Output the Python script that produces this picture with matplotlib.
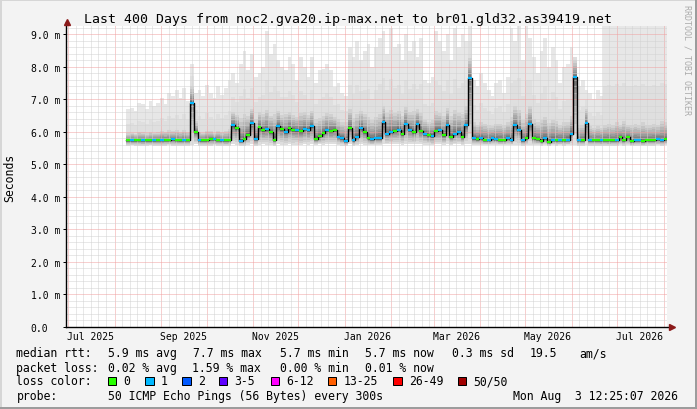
import numpy as np
import matplotlib
matplotlib.use('Agg')
import matplotlib.pyplot as plt
import matplotlib.dates as mdates
from datetime import datetime
from matplotlib.patches import Rectangle

# ---------------- data ----------------
title = "Last 400 Days from noc2.gva20.ip-max.net to br01.gld32.as39419.net"
window_start = datetime(2025, 6, 29, 12, 25, 7)
window_end = datetime(2026, 8, 3, 12, 25, 7)
data_start = datetime(2025, 8, 8, 12, 0)
step_days = 2.5

# median rtt (ms) per consolidated step
median = [
    5.74, 5.74, 5.74, 5.75, 5.74, 5.74, 5.74, 5.74, 5.75, 5.76, 5.76, 5.76, 5.77, 5.75, 5.75, 5.75, 5.75,
    6.90, 6.00,
    5.74, 5.74, 5.75, 5.78, 5.77, 5.75, 5.74, 5.74, 5.74,
    6.20, 6.12, 5.73, 5.79, 5.92, 6.28, 5.79, 6.15, 6.05, 6.08, 6.00, 5.76, 6.17, 6.08, 6.00, 6.12, 6.07, 6.05, 6.02,
    6.10, 6.05, 6.17, 5.79, 5.87, 5.97, 6.05, 6.03, 6.07, 5.85, 5.80, 5.72, 6.13, 5.74, 5.85, 6.13, 6.00, 5.80, 5.77, 5.80, 5.80,
    6.30, 5.95, 6.00, 6.03, 6.07, 5.95, 6.25, 6.07, 6.00, 6.23, 6.03, 5.95, 5.90, 5.87, 6.03, 6.05, 5.90, 6.20, 5.85, 5.95, 5.99, 5.85, 6.20,
    7.66, 5.80, 5.78, 5.80, 5.76,
    5.76, 5.80, 5.78, 5.76, 5.76, 5.80, 5.76, 6.20, 6.07, 5.74, 5.82, 6.23, 5.80, 5.78, 5.72, 5.80, 5.69, 5.76, 5.74, 5.76, 5.74, 5.76, 5.95,
    7.69, 5.74, 5.74, 6.28, 5.74, 5.74, 5.74, 5.74, 5.74, 5.74, 5.74, 5.74, 5.83, 5.74, 5.83, 5.72, 5.74, 5.74, 5.72, 5.74, 5.74, 5.74, 5.77, 5.74, 5.78,
]
# loss class per step (0 = no loss, 1 = one lost ping)
loss = [
    0, 1, 0, 0, 1, 0, 0, 1, 0, 1, 0, 0, 1, 0, 0, 1, 0,
    1, 0,
    1, 0, 0, 0, 1, 0, 1, 0, 0,
    1, 0, 1, 0, 0, 1, 1, 0, 0, 1, 0, 0, 1, 0, 1, 0, 0, 1, 0,
    1, 1, 1, 0, 0, 0, 1, 0, 0, 1, 1, 1, 0, 1, 1, 1, 0, 0, 1, 1, 1,
    1, 1, 1, 0, 1, 0, 1, 1, 0, 1, 0, 1, 0, 1, 0, 1, 0, 1, 0, 1, 1, 0, 1,
    1, 1, 0, 1, 0,
    1, 1, 1, 0, 0, 1, 1, 1, 1, 1, 0, 1, 0, 0, 0, 1, 0, 1, 0, 1, 0, 1, 1,
    1, 1, 0, 1, 1, 0, 0, 1, 0, 0, 0, 1, 0, 0, 0, 0, 1, 1, 0, 0, 0, 0, 1, 1, 0,
]
# highest ping per step (ms)
ping_max = [
    6.70, 6.75, 6.65, 6.90, 6.85, 6.70, 6.95, 6.80, 6.90, 7.05, 6.85, 7.20, 7.10, 7.30, 7.05, 7.35, 6.95,
    8.10, 7.20,
    7.30, 7.10, 7.45, 7.20, 7.05, 7.40, 7.15, 7.35, 7.60,
    7.80, 7.50, 8.10, 8.50, 7.90, 8.40, 7.70, 7.80, 8.00, 9.10, 8.40, 8.70, 8.20, 8.00, 7.90, 8.30, 8.10, 7.60, 8.30,
    7.99, 7.69, 8.30, 7.50, 7.90, 7.94, 8.10, 7.90, 7.38, 7.50, 7.20, 7.10, 8.60, 8.30, 8.80, 8.20, 8.50, 8.70, 8.00, 8.60, 8.90,
    9.10, 8.40, 9.20, 8.60, 8.70, 8.20, 9.00, 8.50, 8.80, 8.30, 8.90, 7.60, 7.50, 7.70, 9.10, 8.80, 8.50, 9.00, 8.20, 9.20, 8.60, 9.00, 8.80,
    9.50, 7.60, 7.40, 7.80, 7.50,
    7.30, 7.10, 7.50, 7.60, 7.20, 7.70, 9.20, 8.80, 9.30, 8.20, 9.30, 8.90, 8.30, 7.80, 8.50, 8.90, 8.00, 8.60, 8.20, 7.50, 8.00, 8.10, 8.60,
    8.20, 7.40, 7.60, 7.30, 7.20, 7.00, 7.30, 7.10, 9.50, 9.50, 9.50, 9.50, 9.50, 9.50, 9.50, 9.50, 9.50, 9.50, 9.50, 9.50, 9.50, 9.50, 9.50, 9.50, 9.50,
]
# upper edge of the dense smoke (ms)
ping_q80 = [
    6.00, 6.02, 5.98, 6.05, 6.03, 6.00, 6.05, 6.02, 6.04, 6.08, 6.05, 6.10, 6.08, 6.12, 6.06, 6.12, 6.05,
    7.50, 6.40,
    6.05, 6.02, 6.10, 6.08, 6.02, 6.10, 6.05, 6.08, 6.15,
    6.70, 6.60, 6.55, 6.70, 6.60, 6.80, 6.50, 6.70, 6.65, 6.80, 6.60, 6.70, 6.75, 6.60, 6.65, 6.70, 6.60, 6.55, 6.70,
    6.70, 6.60, 6.75, 6.50, 6.55, 6.60, 6.70, 6.65, 6.55, 6.50, 6.40, 6.40, 6.80, 6.55, 6.70, 6.75, 6.65, 6.60, 6.50, 6.60, 6.70,
    6.90, 6.70, 6.80, 6.70, 6.75, 6.60, 6.85, 6.70, 6.75, 6.80, 6.70, 6.45, 6.40, 6.45, 6.75, 6.70, 6.60, 6.85, 6.60, 6.80, 6.70, 6.70, 6.90,
    8.40, 6.40, 6.30, 6.40, 6.35,
    6.30, 6.25, 6.35, 6.35, 6.30, 6.40, 6.60, 6.90, 6.80, 6.50, 6.70, 6.90, 6.50, 6.40, 6.50, 6.60, 6.40, 6.50, 6.45, 6.30, 6.40, 6.40, 6.60,
    8.30, 6.30, 6.30, 6.80, 6.25, 6.20, 6.25, 6.20, 6.30, 6.35, 6.30, 6.40, 6.30, 6.45, 6.30, 6.30, 6.35, 6.30, 6.40, 6.30, 6.30, 6.35, 6.30, 6.45, 6.40,
]
# lowest ping per step (ms)
ping_min = [
    5.58, 5.59, 5.58, 5.58, 5.57, 5.58, 5.59, 5.58, 5.58, 5.57, 5.58, 5.59, 5.58, 5.58, 5.57, 5.58, 5.58,
    5.60, 5.62,
    5.58, 5.58, 5.57, 5.58, 5.59, 5.58, 5.58, 5.57, 5.58,
    5.62, 5.60, 5.58, 5.58, 5.60, 5.62, 5.58, 5.60, 5.62, 5.60, 5.61, 5.58, 5.62, 5.60, 5.61, 5.62, 5.60, 5.61, 5.60,
    5.62, 5.61, 5.63, 5.60, 5.62, 5.61, 5.63, 5.62, 5.62, 5.60, 5.58, 5.57, 5.62, 5.58, 5.60, 5.62, 5.61, 5.60, 5.59, 5.60, 5.60,
    5.64, 5.62, 5.62, 5.63, 5.62, 5.61, 5.64, 5.62, 5.62, 5.63, 5.62, 5.60, 5.60, 5.59, 5.62, 5.62, 5.60, 5.63, 5.60, 5.62, 5.62, 5.60, 5.63,
    5.62, 5.60, 5.60, 5.61, 5.59,
    5.59, 5.60, 5.60, 5.59, 5.59, 5.60, 5.59, 5.61, 5.60, 5.58, 5.60, 5.61, 5.60, 5.59, 5.57, 5.60, 5.56, 5.59, 5.58, 5.59, 5.58, 5.59, 5.60,
    5.60, 5.58, 5.58, 5.60, 5.58, 5.58, 5.58, 5.57, 5.58, 5.57, 5.58, 5.58, 5.60, 5.58, 5.60, 5.56, 5.58, 5.58, 5.56, 5.58, 5.58, 5.58, 5.59, 5.58, 5.59,
]

y_ticks = [0, 1, 2, 3, 4, 5, 6, 7, 8, 9]
y_tick_labels = ["0.0", "1.0 m", "2.0 m", "3.0 m", "4.0 m", "5.0 m", "6.0 m", "7.0 m", "8.0 m", "9.0 m"]
x_label_months = [(2025, 7), (2025, 9), (2025, 11), (2026, 1), (2026, 3), (2026, 5), (2026, 7)]

loss_labels = ["0", "1", "2", "3-5", "6-12", "13-25", "26-49", "50/50"]
loss_colors = ["#26ff00", "#00b8ff", "#0059ff", "#5e00ff", "#ff00ff", "#ff5e00", "#ff0000", "#a10000"]

legend_rtt = [("median rtt:", 16.4), ("5.9 ms avg", 108), ("7.7 ms max", 193.3), ("5.7 ms min", 280),
              ("5.7 ms now", 365.3), ("0.3 ms sd", 452), ("19.5", 530), ("am/s", 579)]
legend_loss = [("packet loss:", 16.4), ("0.02 % avg", 108), ("1.59 % max", 192.4), ("0.00 % min", 280),
               ("0.01 % now", 365.3)]
probe_text = "50 ICMP Echo Pings (56 Bytes) every 300s"
stamp_text = "Mon Aug  3 12:25:07 2026"

# ---------------- figure ----------------
W, H = 697, 410
MONO = "DejaVu Sans Mono"
fig = plt.figure(figsize=(W / 100, H / 100), dpi=100, facecolor="#f3f3f3")


def fx(px):
    return px / W


def fy(py):
    return 1 - py / H


AX_L, AX_R, AX_T, AX_B = 66, 667.4, 27, 328
ax = fig.add_axes([fx(AX_L), fy(AX_B), (AX_R - AX_L) / W, (AX_B - AX_T) / H])
ax.set_facecolor("white")
for s in ax.spines.values():
    s.set_visible(False)

n = min(len(median), len(loss), len(ping_max), len(ping_q80), len(ping_min))
med = np.array(median[:n])
top = np.array(ping_max[:n])
q80 = np.array(ping_q80[:n])
low = np.array(ping_min[:n])
lc = np.array(loss[:n])

x0 = mdates.date2num(data_start)
xe = x0 + step_days * np.arange(n + 1)


def st(a):
    return np.append(a, a[-1])


# smoke: light part up to max
mid = q80 + (top - q80) * 0.35
ax.fill_between(xe, st(q80), st(mid), step="post", color="#dfdfdf", lw=0, zorder=1, antialiased=False)
ax.fill_between(xe, st(mid), st(top), step="post", color="#e7e7e7", lw=0, zorder=1, antialiased=False)
# dense smoke gradient around median
K = 12
fr = (np.arange(K + 1) / K) ** 2.0
for k in range(K):
    g = 0.30 + 0.57 * (k / (K - 1))
    col = (g, g, g)
    a1 = med + (q80 - med) * fr[k]
    a2 = med + (q80 - med) * fr[k + 1]
    ax.fill_between(xe, st(a1), st(a2), step="post", color=col, lw=0, zorder=1, antialiased=False)
    b1 = med - (med - low) * fr[k]
    b2 = med - (med - low) * fr[k + 1]
    ax.fill_between(xe, st(b2), st(b1), step="post", color=col, lw=0, zorder=1, antialiased=False)

# grid
xmin = mdates.date2num(window_start)
xmax = mdates.date2num(window_end)
ax.set_xlim(xmin, xmax)
ax.set_ylim(0, 9.26)

dot = (0, (1, 1))
MAJ = "#f0a0a0"
MIN = "#d2d2d2"
y = 2025
m = 6
while True:
    for d in (1, 6, 11, 16, 21, 26):
        t = mdates.date2num(datetime(y, m, d))
        if xmin < t < xmax:
            ax.axvline(t, color=MAJ if d == 1 else MIN, lw=0.72, ls=dot, zorder=2)
    m += 1
    if m > 12:
        m = 1
        y += 1
    if datetime(y, m, 1) > window_end:
        break
for v in np.arange(0.2, 9.26, 0.2):
    major = abs(v - round(v)) < 1e-6
    ax.axhline(v, color=MAJ if major else MIN, lw=0.72, ls=dot, zorder=2)

# median line
ax.step(xe, st(med), where="post", color="black", lw=1.0, zorder=3)
ax.hlines(med, xe[:-1], xe[1:], colors=[loss_colors[c] for c in lc], lw=1.6, zorder=4)

# axes lines and arrows
ax.plot([0, 0], [0, 1.012], color="black", lw=1.0, transform=ax.transAxes, clip_on=False, zorder=5)
ax.plot([0, 1.006], [0, 0], color="black", lw=1.0, transform=ax.transAxes, clip_on=False, zorder=5)
ax.plot([0.001], [1.012], marker="^", ms=4, color="#8b1a1a", transform=ax.transAxes, clip_on=False, zorder=6)
ax.plot([1.007], [0], marker=">", ms=4, color="#8b1a1a", transform=ax.transAxes, clip_on=False, zorder=6)

# y ticks
ax.set_yticks(y_ticks)
ax.set_yticklabels(y_tick_labels, fontsize=7, family=MONO)
ax.tick_params(axis="y", length=2.2, width=0.72, direction="out", pad=23.2, color="black")
for lbl in ax.get_yticklabels():
    lbl.set_horizontalalignment("left")

# x labels at mid month
ax.set_xticks([])
for (yy, mm) in x_label_months:
    t = mdates.date2num(datetime(yy, mm, 16))
    ax.text(t, -9.5 / (AX_B - AX_T), datetime(yy, mm, 1).strftime("%b %Y"),
            transform=ax.get_xaxis_transform(), ha="center", va="center", fontsize=7, family=MONO)

# texts
fig.text(0.5, fy(19.3), title, ha="center", va="center", fontsize=9.5, family=MONO)
fig.text(fx(10), fy(177.5), "Seconds", rotation=90, ha="center", va="center", fontsize=8.3, family=MONO)
fig.text(fx(687.5), fy(60), "RRDTOOL / TOBI OETIKER", rotation=270, ha="center", va="center",
         fontsize=6, family=MONO, color="#ababab")

LF = 8.3
for s, xp in legend_rtt:
    fig.text(fx(xp), fy(354), s, ha="left", va="center", fontsize=LF, family=MONO)
for s, xp in legend_loss:
    fig.text(fx(xp), fy(368.3), s, ha="left", va="center", fontsize=LF, family=MONO)
fig.text(fx(16.4), fy(381.7), "loss color:", ha="left", va="center", fontsize=LF, family=MONO)
box_x = [108, 145.3, 182.2, 219, 271, 328, 393.3, 457.8]
for bx, lab, col in zip(box_x, loss_labels, loss_colors):
    fig.add_artist(Rectangle((fx(bx), fy(386.2)), 8.4 / W, 8.7 / H, transform=fig.transFigure,
                             facecolor=col, edgecolor="black", lw=0.72))
    fig.text(fx(bx + 15.5), fy(381.7), lab, ha="left", va="center", fontsize=LF, family=MONO)
fig.text(fx(16.4), fy(396.5), "probe:", ha="left", va="center", fontsize=LF, family=MONO)
fig.text(fx(108), fy(396.5), probe_text, ha="left", va="center", fontsize=LF, family=MONO)
fig.text(fx(513.3), fy(396.5), stamp_text, ha="left", va="center", fontsize=LF, family=MONO)

# 3D frame
fig.add_artist(Rectangle((0, fy(2)), 1, 2 / H, transform=fig.transFigure, facecolor="#d6d6d6", lw=0))
fig.add_artist(Rectangle((0, 0), 2 / W, 1, transform=fig.transFigure, facecolor="#d6d6d6", lw=0))
fig.add_artist(Rectangle((0, 0), 1, 2 / H, transform=fig.transFigure, facecolor="#9c9c9c", lw=0))
fig.add_artist(Rectangle((1 - 2 / W, 0), 2 / W, 1, transform=fig.transFigure, facecolor="#9c9c9c", lw=0))

fig.savefig("out.png", dpi=100, facecolor=fig.get_facecolor())
